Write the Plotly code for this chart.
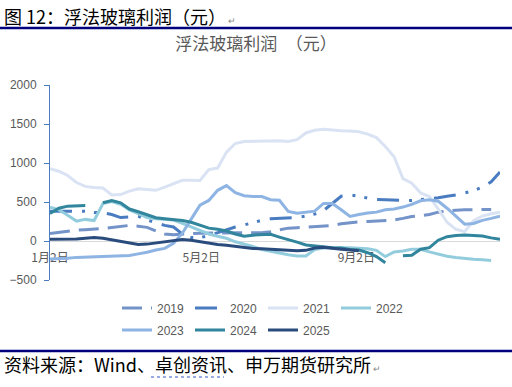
import plotly.graph_objects as go
import pandas as pd

# ---------------- data ----------------
WEEKS = pd.date_range("2021-01-02", periods=52, freq="7D")  # weekly category grid (Jan 2 ...)
TICK_DATES = ["2021-01-02", "2021-05-02", "2021-09-02"]
TICK_TEXT = ["1月2日", "5月2日", "9月2日"]
Y_TICKS = [-500, 0, 500, 1000, 1500, 2000]

Y2019 = [95, 110, 125, 140, 145, 150, 160, 172, 190, 200,
         190, 175, 130, 90, 80, 90, 95, 100, 100, 100,
         100, 100, 105, 107, 107, 120, 140, 165, 171, 180,
         185, 190, 200, 220, 235, 245, 250, 258, 265, 270,
         290, 315, 325, 340, 370, 385, 395, 400, 404, 404,
         404]
Y2020 = [383, 383, 383, 383, 380, 365, 362, 340, 300, 310,
         319, 270, 235, 200, 180, 90, 45, 43, 70, 110,
         145, 180, 205, 240, 265, 285, 290, 290, 300, 320,
         345, 390, 480, 574, 590, 575, 550, 532, 528, 524,
         520, 520, 530, 541, 555, 575, 590, 617, 645, 690,
         760, 885]
Y2021 = [928, 895, 840, 750, 700, 685, 680, 590, 595, 640,
         670, 660, 650, 690, 730, 779, 778, 777, 915, 935,
         1140, 1250, 1275, 1276, 1276, 1285, 1285, 1276, 1300, 1385,
         1420, 1434, 1420, 1414, 1410, 1400, 1370, 1325, 1212, 1080,
         800, 740, 617, 570, 410, 240, 150, 120, 260, 320,
         350, 370]
Y2022 = [434, 400, 330, 255, 277, 262, 480, 505, 470, 400,
         350, 300, 285, 275, 268, 225, 180, 136, 90, 60,
         35, -10, -40, -70, -110, -135, -155, -175, -191, -191,
         -110, -90, -85, -85, -85, -90, -100, -120, -200, -140,
         -128, -106, -106, -140, -170, -195, -212, -225, -234, -240,
         -250]
Y2023 = [-230, -228, -222, -210, -205, -200, -198, -195, -192, -185,
         -165, -145, -115, -95, -30, 100, 280, 460, 520, 650,
         710, 620, 580, 570, 570, 530, 523, 380, 355, 370,
         383, 481, 480, 400, 315, 340, 360, 370, 400, 410,
         435, 470, 515, 530, 510, 420, 320, 215, 225, 265,
         290, 319]
Y2024 = [353, 420, 447, 452, 455, None, 490, 520, 490, 410,
         375, 335, 298, 285, 277, 262, 240, 200, 165, 150,
         128, 90, 60, 75, 80, 85, 50, 20, -15, -50,
         -64, -75, -85, -90, -110, -115, -150, -200, -280, None,
         -190, -182, -106, -85, 10, 55, 70, 77, 70, 64,
         40, 22]
Y2025 = [22, 22, 22, 25, 35, 45, 35, 15, -5, -30,
         -45, -40, -25, -10, 5, 18, 10, -10, -25, -45,
         -55, -70, -85, -95, -100, -106, -115, -120, -125, -120,
         -90, -80, -95, -105, -115, -125]

SERIES = [
    ("2019", Y2019, "#7393C9", "20px,9px", "legend"),
    ("2020", Y2020, "#4A7CC1", "22px,10px,3px,9px,3px,10px", "legend"),
    ("2021", Y2021, "#DAE3F3", "solid", "legend"),
    ("2022", Y2022, "#93CDDD", "solid", "legend"),
    ("2023", Y2023, "#8EB4E3", "solid", "legend2"),
    ("2024", Y2024, "#31859C", "solid", "legend2"),
    ("2025", Y2025, "#2A4C7D", "solid", "legend2"),
]

W, H = 512, 387
L, R, T, B = 50, 12, 85, 107
PW, PH = W - L - R, H - T - B


def px_x(px):
    return (px - L) / PW


def px_y(py):
    return (H - B - py) / PH


fig = go.Figure()
for name, vals, color, dash, leg in SERIES:
    fig.add_trace(go.Scatter(
        x=WEEKS[:len(vals)], y=vals, name=name, mode="lines",
        line=dict(color=color, width=3, dash=dash),
        connectgaps=False, legend=leg,
    ))

CJK = "Noto Sans CJK SC"
GREY = "#595959"

legend_common = dict(orientation="h", xref="paper", yref="paper",
                     xanchor="left", yanchor="middle",
                     font=dict(family="Liberation Sans, Arial", size=12, color=GREY),
                     entrywidth=28, itemwidth=30, bgcolor="rgba(0,0,0,0)")

fig.update_layout(
    width=W, height=H,
    margin=dict(l=L, r=R, t=T, b=B, autoexpand=False),
    paper_bgcolor="white", plot_bgcolor="white",
    showlegend=True,
    title=dict(text="浮法玻璃利润　（元）", x=0.5, xref="container", xanchor="center",
               y=1 - 44 / H, yref="container", yanchor="middle",
               font=dict(family=CJK, size=17, color=GREY)),
    xaxis=dict(
        range=[WEEKS[0], WEEKS[-1]], tickmode="array", tickvals=TICK_DATES, ticktext=TICK_TEXT,
        showgrid=False, zeroline=False, showline=False, ticks="",
        anchor="free", position=px_y(241.7),
        tickfont=dict(family=CJK, size=12, color=GREY), ticklabelstandoff=7,
        layer="below traces",
    ),
    yaxis=dict(
        range=[-500, 2000], tickmode="array", tickvals=Y_TICKS,
        showgrid=False, zeroline=True, zerolinecolor="#D9D9D9", zerolinewidth=1,
        showline=True, linecolor="#4A7CC1", linewidth=1,
        ticks="outside", ticklen=5, tickcolor="#4A7CC1",
        tickfont=dict(family="Liberation Sans, Arial", size=12, color=GREY),
        ticklabelstandoff=5,
    ),
    legend=dict(x=px_x(117), y=px_y(308), **legend_common),
    legend2=dict(x=px_x(117), y=px_y(330), **legend_common),
)

NAVY = "#00007F"
fig.add_shape(type="line", xref="paper", yref="paper",
              x0=px_x(0), x1=px_x(W), y0=px_y(28), y1=px_y(28),
              line=dict(color=NAVY, width=2.5))
fig.add_shape(type="line", xref="paper", yref="paper",
              x0=px_x(0), x1=px_x(W), y0=px_y(351), y1=px_y(351),
              line=dict(color=NAVY, width=2.5))
# wavy (spell-check style) underline under 卓创资讯
fig.add_shape(type="line", xref="paper", yref="paper",
              x0=px_x(151), x1=px_x(224), y0=px_y(377), y1=px_y(377),
              line=dict(color="#3355CC", width=1, dash="dot"))

fig.add_annotation(text="图 12：浮法玻璃利润（元）<span style='font-size:9px;color:#888'> ↵</span>",
                   xref="paper", yref="paper", x=px_x(2), y=px_y(16),
                   xanchor="left", yanchor="middle", showarrow=False,
                   font=dict(family=CJK, size=18, color="black"))
fig.add_annotation(text="资料来源：Wind、卓创资讯、申万期货研究所<span style='font-size:9px;color:#888'> ↵</span>",
                   xref="paper", yref="paper", x=px_x(2), y=px_y(364),
                   xanchor="left", yanchor="middle", showarrow=False,
                   font=dict(family=CJK, size=18, color="black"))

fig.write_html("out.html", config={"displayModeBar": False},
               post_script="document.body.style.margin='0';document.body.style.padding='0';")
